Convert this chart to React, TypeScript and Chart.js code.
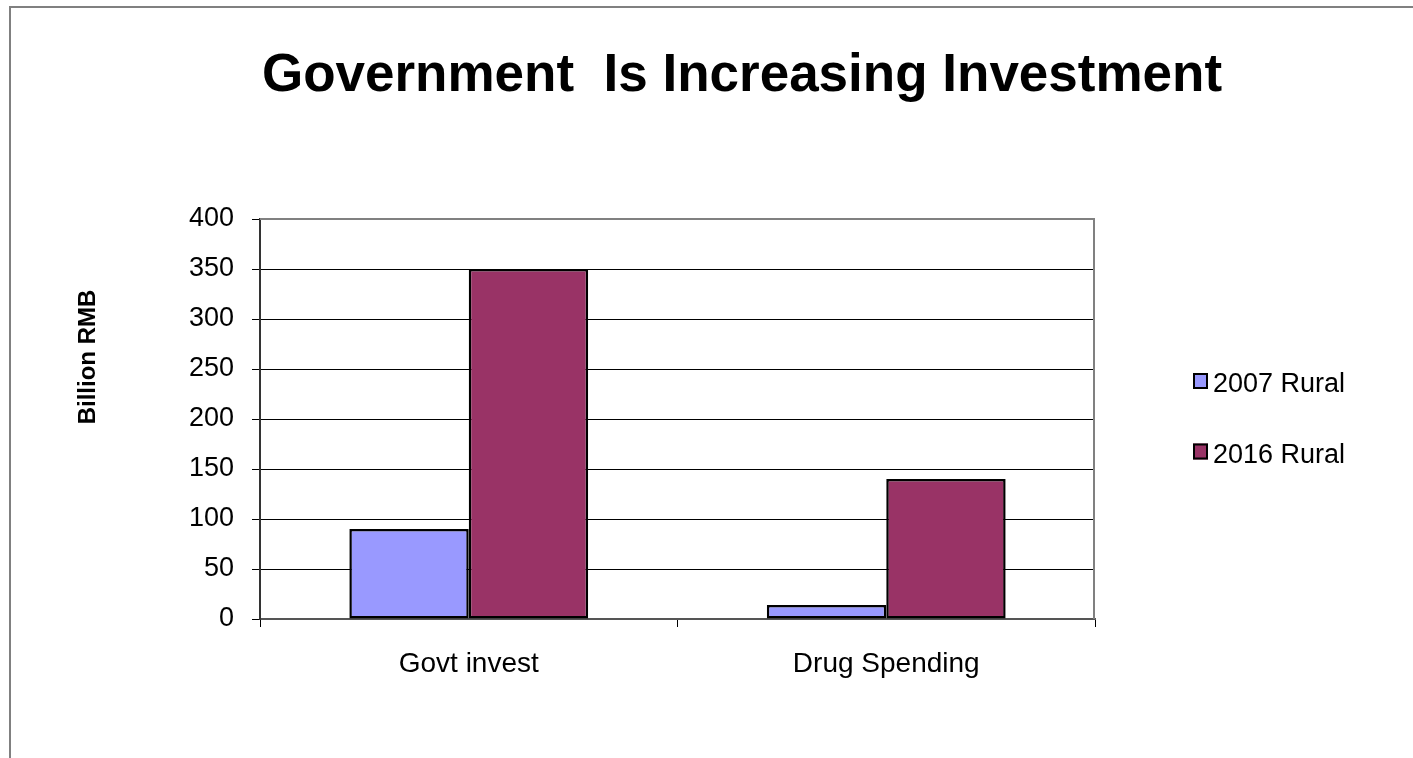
import React, { useEffect, useRef } from 'react';
import { Chart, registerables } from 'chart.js';

Chart.register(...registerables);

const titleText = 'Government  Is Increasing Investment';
const yAxisTitle = 'Billion RMB';
const categories = ['Govt invest', 'Drug Spending'];
const seriesLabels = ['2007 Rural', '2016 Rural'];
const rural2007 = [90, 14];
const rural2016 = [350, 140];
const seriesColors = ['#9999FF', '#993366'];
const yMin = 0;
const yMax = 400;
const yStep = 50;

const FONT = '"Liberation Sans", Arial, sans-serif';

const decorPlugin = {
  id: 'decor',
  afterDraw(chart: any) {
    const { ctx, chartArea } = chart;
    ctx.save();
    // plot area frame (top + right)
    ctx.strokeStyle = '#808080';
    ctx.lineWidth = 2;
    ctx.beginPath();
    ctx.moveTo(chartArea.left, chartArea.top);
    ctx.lineTo(chartArea.right - 1, chartArea.top);
    ctx.lineTo(chartArea.right - 1, chartArea.bottom);
    ctx.stroke();

    // title
    ctx.fillStyle = '#000';
    ctx.font = `bold 53px ${FONT}`;
    ctx.textAlign = 'center';
    ctx.textBaseline = 'alphabetic';
    ctx.fillText(titleText, 742, 91);

    // y axis title
    ctx.save();
    ctx.translate(95, 357);
    ctx.rotate(-Math.PI / 2);
    ctx.font = `bold 24px ${FONT}`;
    ctx.textAlign = 'center';
    ctx.textBaseline = 'alphabetic';
    ctx.fillText(yAxisTitle, 0, 0);
    ctx.restore();

    // legend
    const datasets = chart.data.datasets;
    datasets.forEach((ds: any, i: number) => {
      const baseline = 392 + i * 70.5;
      const bx = 1193;
      const by = baseline - 19;
      ctx.fillStyle = ds.backgroundColor;
      ctx.fillRect(bx, by, 15, 16);
      ctx.strokeStyle = '#000';
      ctx.lineWidth = 2;
      ctx.strokeRect(bx + 1, by + 1, 13, 14);
      ctx.fillStyle = '#000';
      ctx.font = `27px ${FONT}`;
      ctx.textAlign = 'left';
      ctx.textBaseline = 'alphabetic';
      ctx.fillText(ds.label, 1213, baseline);
    });
    ctx.restore();
  },
};

export default function App() {
  const canvasRef = useRef<HTMLCanvasElement | null>(null);

  useEffect(() => {
    if (!canvasRef.current) return;
    const chart = new Chart(canvasRef.current, {
      type: 'bar',
      data: {
        labels: categories,
        datasets: [
          {
            label: seriesLabels[0],
            data: rural2007,
            backgroundColor: seriesColors[0],
            borderColor: '#000',
            borderWidth: 2.5,
            borderSkipped: false,
            categoryPercentage: 0.572,
            barPercentage: 1.0,
          },
          {
            label: seriesLabels[1],
            data: rural2016,
            backgroundColor: seriesColors[1],
            borderColor: '#000',
            borderWidth: 2.5,
            borderSkipped: false,
            categoryPercentage: 0.572,
            barPercentage: 1.0,
          },
        ],
      },
      options: {
        responsive: false,
        animation: false,
        layout: { padding: { left: 0, right: 318, top: 219, bottom: 79 } },
        plugins: {
          legend: { display: false },
          title: { display: false },
          tooltip: { enabled: false },
        },
        scales: {
          x: {
            afterFit(scale: any) {
              scale.height = 60;
            },
            grid: {
              drawOnChartArea: false,
              drawTicks: true,
              tickLength: 8,
              color: '#000',
              tickColor: '#000',
            },
            border: { display: true, color: '#555', width: 2 },
            ticks: {
              color: '#000',
              font: { family: FONT, size: 28 },
              padding: 20,
            },
          },
          y: {
            min: yMin,
            max: yMax,
            afterFit(scale: any) {
              scale.width = 260;
            },
            grid: {
              color: (c: any) => (c.tick && c.tick.value === yMax ? 'rgba(0,0,0,0)' : '#000'),
              tickColor: '#000',
              tickLength: 8,
              lineWidth: 1,
            },
            border: { display: true, color: '#333', width: 2 },
            ticks: {
              stepSize: yStep,
              color: '#000',
              font: { family: FONT, size: 27 },
              padding: 18,
            },
          },
        },
      },
      plugins: [decorPlugin],
    });
    return () => chart.destroy();
  }, []);

  return (
    <div
      style={{
        position: 'fixed',
        left: 0,
        top: 0,
        width: 1413,
        height: 758,
        overflow: 'hidden',
        background: '#fff',
      }}
    >
      <div
        style={{
          position: 'absolute',
          left: 9,
          top: 6,
          width: 1420,
          height: 780,
          borderTop: '2px solid #808080',
          borderLeft: '2px solid #808080',
        }}
      />
      <canvas
        ref={canvasRef}
        width={1413}
        height={758}
        style={{ position: 'absolute', left: 0, top: 0 }}
      />
    </div>
  );
}
